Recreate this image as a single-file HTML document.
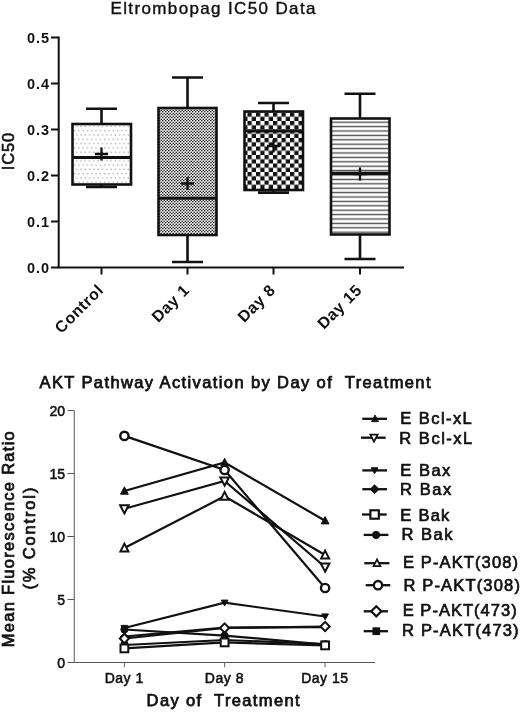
<!DOCTYPE html>
<html><head><meta charset="utf-8"><title>Eltrombopag IC50 Data</title>
<style>
html,body{margin:0;padding:0;background:#fff;}
body{width:520px;height:712px;overflow:hidden;}
svg{display:block;}
text{font-family:"Liberation Sans",sans-serif;fill:#111;white-space:pre;}
.b{font-weight:bold;}
</style></head><body>
<svg width="520" height="712" viewBox="0 0 520 712">
<defs>
<pattern id="pdots" width="4.3" height="8.6" patternUnits="userSpaceOnUse">
<rect width="4.3" height="8.6" fill="#fff"/>
<rect x="0.8" y="1" width="1.3" height="1.3" fill="#a8a8a8"/>
<rect x="2.95" y="5.3" width="1.3" height="1.3" fill="#a8a8a8"/>
</pattern>
<pattern id="pfine" width="3" height="3" patternUnits="userSpaceOnUse">
<rect width="3" height="3" fill="#fff"/>
<circle cx="0.75" cy="0.75" r="0.8" fill="#111"/><circle cx="2.25" cy="2.25" r="0.8" fill="#111"/>
</pattern>
<pattern id="pcheck" width="8.5" height="8.5" patternUnits="userSpaceOnUse" x="1" y="2">
<rect width="8.5" height="8.5" fill="#fff"/>
<rect x="0" y="0" width="4.25" height="4.25" fill="#111"/><rect x="4.25" y="4.25" width="4.25" height="4.25" fill="#111"/>
</pattern>
<pattern id="phoriz" width="6" height="4.4" patternUnits="userSpaceOnUse" y="1.2">
<rect width="6" height="4.4" fill="#fff"/>
<rect x="0" y="1.5" width="6" height="1.4" fill="#505050"/>
</pattern>
</defs>
<rect width="520" height="712" fill="#fff"/>
<g id="top">
<text x="110.5" y="14" font-size="17" textLength="205" lengthAdjust="spacing" stroke="#111" stroke-width="0.4">Eltrombopag IC50 Data</text>
<path d="M58.7 36.5 V267.5 H404" fill="none" stroke="#111" stroke-width="2"/>
<path d="M51 267.50 H58.7" stroke="#111" stroke-width="2"/>
<text class="b" x="49" y="272.50" font-size="14.5" text-anchor="end" textLength="22" lengthAdjust="spacing">0.0</text>
<path d="M51 221.50 H58.7" stroke="#111" stroke-width="2"/>
<text class="b" x="49" y="226.50" font-size="14.5" text-anchor="end" textLength="22" lengthAdjust="spacing">0.1</text>
<path d="M51 175.50 H58.7" stroke="#111" stroke-width="2"/>
<text class="b" x="49" y="180.50" font-size="14.5" text-anchor="end" textLength="22" lengthAdjust="spacing">0.2</text>
<path d="M51 129.50 H58.7" stroke="#111" stroke-width="2"/>
<text class="b" x="49" y="134.50" font-size="14.5" text-anchor="end" textLength="22" lengthAdjust="spacing">0.3</text>
<path d="M51 83.50 H58.7" stroke="#111" stroke-width="2"/>
<text class="b" x="49" y="88.50" font-size="14.5" text-anchor="end" textLength="22" lengthAdjust="spacing">0.4</text>
<path d="M51 37.50 H58.7" stroke="#111" stroke-width="2"/>
<text class="b" x="49" y="42.50" font-size="14.5" text-anchor="end" textLength="22" lengthAdjust="spacing">0.5</text>
<text transform="translate(14.4 151.5) rotate(-90)" font-size="16.5" text-anchor="middle" textLength="37.5" lengthAdjust="spacing" stroke="#111" stroke-width="0.6">IC50</text>
<path d="M101.5 108.7 V124 M101.5 184.5 V187 M86.0 108.7 H117.0 M86.0 187 H117.0" stroke="#111" stroke-width="2.6" fill="none"/>
<rect x="72.5" y="124" width="58.5" height="60.5" fill="url(#pdots)" stroke="#111" stroke-width="2.6"/>
<path d="M72.5 157.5 H131" stroke="#111" stroke-width="2.9"/>
<path d="M95.0 154 H108.0 M101.5 147.5 V160.5" stroke="#111" stroke-width="2.3"/>
<path d="M101.5 267.5 V274.5" stroke="#111" stroke-width="2"/>
<text class="b" transform="translate(104.5 291.0) rotate(-45)" font-size="16" text-anchor="end" letter-spacing="0.6">Control</text>
<path d="M187.5 77.5 V108 M187.5 235 V262 M172.0 77.5 H203.0 M172.0 262 H203.0" stroke="#111" stroke-width="2.6" fill="none"/>
<rect x="158.5" y="108" width="58.0" height="127" fill="url(#pfine)" stroke="#111" stroke-width="2.6"/>
<path d="M158.5 198.3 H216.5" stroke="#111" stroke-width="2.9"/>
<path d="M181.0 183.5 H194.0 M187.5 177.0 V190.0" stroke="#111" stroke-width="2.3"/>
<path d="M187.5 267.5 V274.5" stroke="#111" stroke-width="2"/>
<text class="b" transform="translate(190.5 291.0) rotate(-45)" font-size="16" text-anchor="end" letter-spacing="0.6">Day 1</text>
<path d="M273.5 103 V111.5 M273.5 190 V192.6 M258.0 103 H289.0 M258.0 192.6 H289.0" stroke="#111" stroke-width="2.6" fill="none"/>
<rect x="244.5" y="111.5" width="58.5" height="78.5" fill="url(#pcheck)" stroke="#111" stroke-width="2.6"/>
<path d="M244.5 131 H303" stroke="#111" stroke-width="2.9"/>
<path d="M267.0 146 H280.0 M273.5 139.5 V152.5" stroke="#111" stroke-width="2.3"/>
<path d="M273.5 267.5 V274.5" stroke="#111" stroke-width="2"/>
<text class="b" transform="translate(276.5 291.0) rotate(-45)" font-size="16" text-anchor="end" letter-spacing="0.6">Day 8</text>
<path d="M360 93.8 V118.5 M360 234.5 V259 M344.5 93.8 H375.5 M344.5 259 H375.5" stroke="#111" stroke-width="2.6" fill="none"/>
<rect x="331" y="118.5" width="58.5" height="116.0" fill="url(#phoriz)" stroke="#111" stroke-width="2.6"/>
<path d="M331 173.3 H389.5" stroke="#111" stroke-width="3.3"/>
<path d="M353.5 174 H366.5 M360 167.5 V180.5" stroke="#111" stroke-width="2.3"/>
<path d="M360 267.5 V274.5" stroke="#111" stroke-width="2"/>
<text class="b" transform="translate(363 291.0) rotate(-45)" font-size="16" text-anchor="end" letter-spacing="0.6">Day 15</text>
</g>
<g id="bottom">
<text x="39.5" y="388" font-size="16.5" stroke="#111" stroke-width="0.75" textLength="391" lengthAdjust="spacing">AKT Pathway Activation by Day of  Treatment</text>
<path d="M74.25 410.5 V662.5 H375" fill="none" stroke="#555" stroke-width="1"/>
<path d="M67.5 662.50 H74.25" stroke="#555" stroke-width="1"/>
<text x="65" y="667.50" font-size="14" text-anchor="end" stroke="#111" stroke-width="0.55">0</text>
<path d="M67.5 599.50 H74.25" stroke="#555" stroke-width="1"/>
<text x="65" y="604.50" font-size="14" text-anchor="end" stroke="#111" stroke-width="0.55">5</text>
<path d="M67.5 536.50 H74.25" stroke="#555" stroke-width="1"/>
<text x="65" y="541.50" font-size="14" text-anchor="end" stroke="#111" stroke-width="0.55">10</text>
<path d="M67.5 473.50 H74.25" stroke="#555" stroke-width="1"/>
<text x="65" y="478.50" font-size="14" text-anchor="end" stroke="#111" stroke-width="0.55">15</text>
<path d="M67.5 410.50 H74.25" stroke="#555" stroke-width="1"/>
<text x="65" y="415.50" font-size="14" text-anchor="end" stroke="#111" stroke-width="0.55">20</text>
<path d="M124.4 662.5 V667.3" stroke="#666" stroke-width="1"/>
<text x="124.2" y="682.5" font-size="14" text-anchor="middle" stroke="#111" stroke-width="0.55" letter-spacing="0.5">Day 1</text>
<path d="M224.6 662.5 V667.3" stroke="#666" stroke-width="1"/>
<text x="224.4" y="682.5" font-size="14" text-anchor="middle" stroke="#111" stroke-width="0.55" letter-spacing="0.5">Day 8</text>
<path d="M325.1 662.5 V667.3" stroke="#666" stroke-width="1"/>
<text x="324.9" y="682.5" font-size="14" text-anchor="middle" stroke="#111" stroke-width="0.55" letter-spacing="0.5">Day 15</text>
<text x="146.6" y="705.6" font-size="16.5" stroke="#111" stroke-width="0.75" textLength="153" lengthAdjust="spacing">Day of  Treatment</text>
<text transform="translate(14.3 539.2) rotate(-90)" font-size="16.5" text-anchor="middle" stroke="#111" stroke-width="0.75" textLength="216" lengthAdjust="spacing">Mean Fluorescence Ratio</text>
<text transform="translate(35 538.6) rotate(-90)" font-size="16.5" text-anchor="middle" stroke="#111" stroke-width="0.75" textLength="102" lengthAdjust="spacing">(% Control)</text>
<polyline points="124.4,636.5 224.6,627.5 325.1,627.2" fill="none" stroke="#111" stroke-width="2.2"/>
<path d="M124.4 632.8 L128.3 636.5 L124.4 640.2 L120.5 636.5 Z" fill="#111" stroke="#111" stroke-width="1"/>
<path d="M224.6 623.8 L228.5 627.5 L224.6 631.2 L220.7 627.5 Z" fill="#111" stroke="#111" stroke-width="1"/>
<path d="M325.1 623.5 L329.0 627.2 L325.1 630.9 L321.2 627.2 Z" fill="#111" stroke="#111" stroke-width="1"/>
<polyline points="124.4,629.5 224.6,635.6 325.1,644.5" fill="none" stroke="#111" stroke-width="2.2"/>
<circle cx="124.4" cy="629.5" r="3.6" fill="#111" stroke="#111" stroke-width="1"/>
<circle cx="224.6" cy="635.6" r="3.6" fill="#111" stroke="#111" stroke-width="1"/>
<circle cx="325.1" cy="644.5" r="3.6" fill="#111" stroke="#111" stroke-width="1"/>
<polyline points="124.4,645 224.6,640 325.1,644" fill="none" stroke="#111" stroke-width="2.2"/>
<rect x="121.4" y="642" width="6" height="6" fill="#111" stroke="#111" stroke-width="1"/>
<rect x="221.6" y="637" width="6" height="6" fill="#111" stroke="#111" stroke-width="1"/>
<rect x="322.1" y="641" width="6" height="6" fill="#111" stroke="#111" stroke-width="1"/>
<polyline points="124.4,628 224.6,602.7 325.1,616.5" fill="none" stroke="#111" stroke-width="2.2"/>
<path d="M124.4 631.2 L127.8 625.4 L121.0 625.4 Z" fill="#111" stroke="#111" stroke-width="1"/>
<path d="M224.6 605.9 L228.0 600.1 L221.2 600.1 Z" fill="#111" stroke="#111" stroke-width="1"/>
<path d="M325.1 619.7 L328.5 613.9 L321.7 613.9 Z" fill="#111" stroke="#111" stroke-width="1"/>
<polyline points="124.4,491 224.6,462.5 325.1,520.7" fill="none" stroke="#111" stroke-width="2.2"/>
<path d="M124.4 486.8 L128.3 494.2 L120.5 494.2 Z" fill="#111" stroke="#111" stroke-width="1"/>
<path d="M224.6 458.3 L228.5 465.7 L220.7 465.7 Z" fill="#111" stroke="#111" stroke-width="1"/>
<path d="M325.1 516.5 L329.0 523.9 L321.2 523.9 Z" fill="#111" stroke="#111" stroke-width="1"/>
<polyline points="124.4,508.75 224.6,481 325.1,567" fill="none" stroke="#111" stroke-width="2.2"/>
<path d="M124.4 513.45 L128.7 505.15 L120.1 505.15 Z" fill="#fff" stroke="#111" stroke-width="2"/>
<path d="M224.6 485.7 L228.9 477.4 L220.3 477.4 Z" fill="#fff" stroke="#111" stroke-width="2"/>
<path d="M325.1 571.7 L329.4 563.4 L320.8 563.4 Z" fill="#fff" stroke="#111" stroke-width="2"/>
<polyline points="124.4,548 224.6,496.3 325.1,555" fill="none" stroke="#111" stroke-width="2.2"/>
<path d="M124.4 543.6 L128.4 551.5 L120.4 551.5 Z" fill="#fff" stroke="#111" stroke-width="2"/>
<path d="M224.6 491.9 L228.6 499.8 L220.6 499.8 Z" fill="#fff" stroke="#111" stroke-width="2"/>
<path d="M325.1 550.6 L329.1 558.5 L321.1 558.5 Z" fill="#fff" stroke="#111" stroke-width="2"/>
<polyline points="124.4,435.9 224.6,470 325.1,588" fill="none" stroke="#111" stroke-width="2.2"/>
<circle cx="124.4" cy="435.9" r="4.15" fill="#fff" stroke="#111" stroke-width="2.4"/>
<circle cx="224.6" cy="470" r="4.15" fill="#fff" stroke="#111" stroke-width="2.4"/>
<circle cx="325.1" cy="588" r="4.15" fill="#fff" stroke="#111" stroke-width="2.4"/>
<polyline points="124.4,648.4 224.6,642.4 325.1,645.4" fill="none" stroke="#111" stroke-width="2.2"/>
<rect x="120.5" y="644.5" width="7.8" height="7.8" fill="#fff" stroke="#111" stroke-width="2"/>
<rect x="220.7" y="638.5" width="7.8" height="7.8" fill="#fff" stroke="#111" stroke-width="2"/>
<rect x="321.2" y="641.5" width="7.8" height="7.8" fill="#fff" stroke="#111" stroke-width="2"/>
<polyline points="124.4,638.5 224.6,628 325.1,626.5" fill="none" stroke="#111" stroke-width="2.2"/>
<path d="M124.4 633.9 L129.0 638.5 L124.4 643.1 L119.8 638.5 Z" fill="#fff" stroke="#111" stroke-width="2"/>
<path d="M224.6 623.4 L229.2 628 L224.6 632.6 L220.0 628 Z" fill="#fff" stroke="#111" stroke-width="2"/>
<path d="M325.1 621.9 L329.7 626.5 L325.1 631.1 L320.5 626.5 Z" fill="#fff" stroke="#111" stroke-width="2"/>
<path d="M362.3 418.8 H387" stroke="#111" stroke-width="2.3"/>
<g transform="translate(375 418.8) scale(0.9)"><path d="M0 -4.2 L3.9 3.2 L-3.9 3.2 Z" fill="#111" stroke="#111" stroke-width="1"/></g>
<text x="400.3" y="423.9" font-size="16.5" stroke="#111" stroke-width="0.7" textLength="71.5" lengthAdjust="spacing">E Bcl-xL</text>
<path d="M361 437.7 H385.7" stroke="#111" stroke-width="2.3"/>
<g transform="translate(374 437.7) scale(0.85)"><path d="M0 4.7 L4.3 -3.6 L-4.3 -3.6 Z" fill="#fff" stroke="#111" stroke-width="2"/></g>
<text x="399.3" y="444.3" font-size="16.5" stroke="#111" stroke-width="0.7" textLength="73" lengthAdjust="spacing">R Bcl-xL</text>
<path d="M362.3 470.4 H387" stroke="#111" stroke-width="2.3"/>
<path d="M374.6 473.6 L378.0 467.8 L371.2 467.8 Z" fill="#111" stroke="#111" stroke-width="1"/>
<text x="400.3" y="475.6" font-size="16.5" stroke="#111" stroke-width="0.7" textLength="50" lengthAdjust="spacing">E Bax</text>
<path d="M362.3 489.2 H387" stroke="#111" stroke-width="2.3"/>
<g transform="translate(374.6 489.2) scale(1.1)"><path d="M0 -3.7 L3.9 0 L0 3.7 L-3.9 0 Z" fill="#111" stroke="#111" stroke-width="1"/></g>
<text x="400.0" y="494.8" font-size="16.5" stroke="#111" stroke-width="0.7" textLength="51.3" lengthAdjust="spacing">R Bax</text>
<path d="M362 514.5 H386.7" stroke="#111" stroke-width="2.3"/>
<g transform="translate(374.6 514.5) scale(1.08)"><rect x="-3.9" y="-3.9" width="7.8" height="7.8" fill="#fff" stroke="#111" stroke-width="2"/></g>
<text x="400.3" y="520.5" font-size="16.5" stroke="#111" stroke-width="0.7" textLength="49" lengthAdjust="spacing">E Bak</text>
<path d="M363.7 534.9 H388.4" stroke="#111" stroke-width="2.3"/>
<circle cx="376.1" cy="534.9" r="3.6" fill="#111" stroke="#111" stroke-width="1"/>
<text x="401.5" y="540.3" font-size="16.5" stroke="#111" stroke-width="0.7" textLength="51" lengthAdjust="spacing">R Bak</text>
<path d="M364.3 563.2 H389.4" stroke="#111" stroke-width="2.3"/>
<g transform="translate(377 563.2) scale(0.85)"><path d="M0 -4.4 L4.0 3.5 L-4.0 3.5 Z" fill="#fff" stroke="#111" stroke-width="2"/></g>
<text x="403" y="568" font-size="16.5" stroke="#111" stroke-width="0.7" textLength="115" lengthAdjust="spacing">E P-AKT(308)</text>
<path d="M365.7 585.2 H390.3" stroke="#111" stroke-width="2.3"/>
<circle cx="378" cy="585.2" r="4.15" fill="#fff" stroke="#111" stroke-width="2.4"/>
<text x="403.4" y="590.7" font-size="16.5" stroke="#111" stroke-width="0.7" textLength="116.5" lengthAdjust="spacing">R P-AKT(308)</text>
<path d="M363.7 611.3 H388" stroke="#111" stroke-width="2.3"/>
<g transform="translate(376.3 611.3) scale(1.1)"><path d="M0 -4.6 L4.6 0 L0 4.6 L-4.6 0 Z" fill="#fff" stroke="#111" stroke-width="2"/></g>
<text x="402.7" y="616" font-size="16.5" stroke="#111" stroke-width="0.7" textLength="114" lengthAdjust="spacing">E P-AKT(473)</text>
<path d="M363.7 631.2 H388" stroke="#111" stroke-width="2.3"/>
<g transform="translate(376.3 631.2) scale(1.1)"><rect x="-3" y="-3" width="6" height="6" fill="#111" stroke="#111" stroke-width="1"/></g>
<text x="402.1" y="636.1" font-size="16.5" stroke="#111" stroke-width="0.7" textLength="116.5" lengthAdjust="spacing">R P-AKT(473)</text>
</g>
</svg>
</body></html>
